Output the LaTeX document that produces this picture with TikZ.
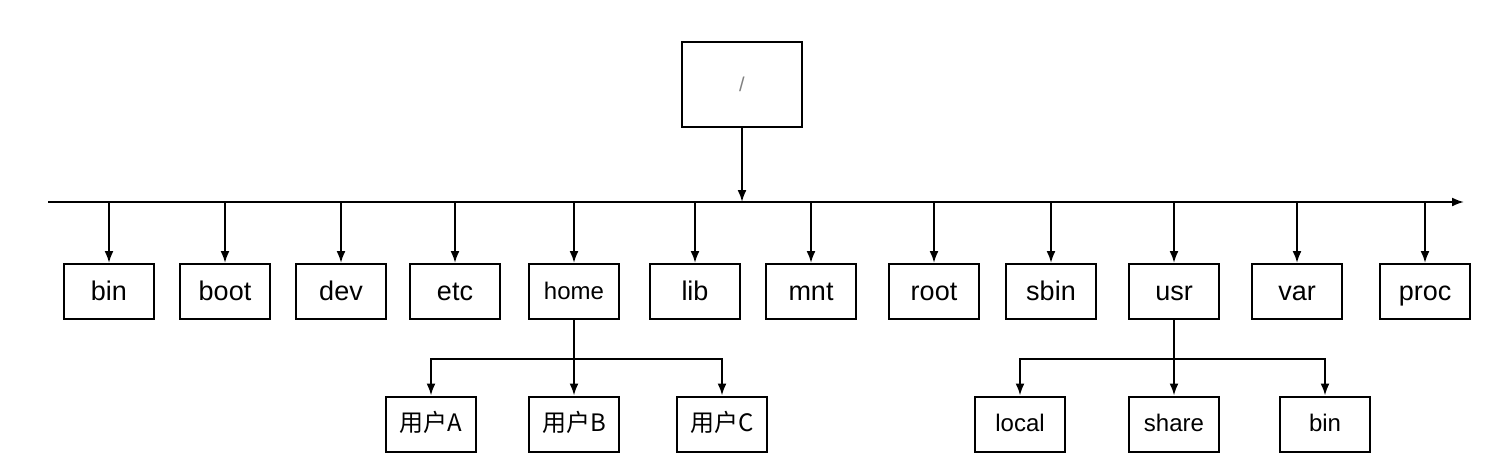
\documentclass[tikz,border=0pt]{standalone}
\usepackage{fontspec}
\setmainfont{Liberation Sans}
\newfontfamily\cjk{Noto Sans CJK SC}
\usetikzlibrary{arrows.meta,positioning,calc}
\tikzset{
  dir/.style={draw,line width=1pt,minimum width=45pt,minimum height=27.5pt,inner sep=0pt,text height=11pt,text depth=2pt,font=\fontsize{13.5}{15}\selectfont},
  subdir/.style={dir,text height=9.5pt,text depth=1.8pt,font=\fontsize{12}{14}\selectfont},
  link/.style={->,line width=1pt}
}
\begin{document}
\begin{tikzpicture}[>={Latex[length=6pt,width=4.5pt]},x=0.5pt,y=0.5pt]
            \useasboundingbox (0,0) rectangle (1504,457);
            \node [draw,line width=1pt,minimum width=60pt,minimum height=42.5pt,inner sep=0pt,text=gray,font=\fontsize{10}{11}\selectfont] (root) at (742,372.5) {/};
            \coordinate (busL) at (48,255);
            \coordinate (busR) at (1464,255);
            \draw [link] (busL) -- (busR);
            \draw [link] (root.south) -- (root.south |- busL);
            % first level
            \node [dir] (bin) at (109,165.5) {bin};
            \node [dir] (boot) at (225,165.5) {boot};
            \node [dir] (dev) at (341,165.5) {dev};
            \node [dir] (etc) at (455,165.5) {etc};
            \node [subdir] (home) at (574,165.5) {home};
            \node [dir] (lib) at (695,165.5) {lib};
            \node [dir] (mnt) at (811,165.5) {mnt};
            \node [dir] (rootdir) at (934,165.5) {root};
            \node [dir] (sbin) at (1051,165.5) {sbin};
            \node [dir] (usr) at (1174,165.5) {usr};
            \node [dir] (var) at (1297,165.5) {var};
            \node [dir] (proc) at (1425,165.5) {proc};
            \foreach \d in {bin,boot,dev,etc,home,lib,mnt,rootdir,sbin,usr,var,proc}
              \draw [link] (\d.north |- busL) -- (\d.north);
            % home
            \node [subdir] (userA) at (431,33) {\cjk 用户A};
            \node [subdir] (userB) at (574,33) {\cjk 用户B};
            \node [subdir] (userC) at (722,33) {\cjk 用户C};
            \coordinate (homeJ) at (574,98.5);
            \draw [link] (home.south) -- (userB.north);
            \draw [link] (homeJ) -| (userA.north);
            \draw [link] (homeJ) -| (userC.north);
            % usr
            \node [subdir] (local) at (1020,33) {local};
            \node [subdir] (share) at (1174,33) {share};
            \node [subdir] (usrbin) at (1325,33) {bin};
            \coordinate (usrJ) at (1174,98.5);
            \draw [link] (usr.south) -- (share.north);
            \draw [link] (usrJ) -| (local.north);
            \draw [link] (usrJ) -| (usrbin.north);
\end{tikzpicture}
\end{document}
